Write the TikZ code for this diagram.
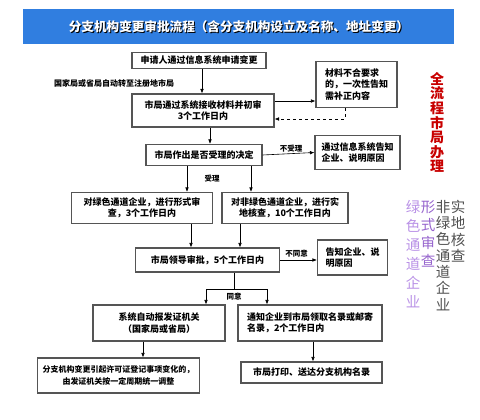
\documentclass[tikz,border=0pt]{standalone}
\usepackage{fontspec}
\setmainfont{Noto Sans CJK SC}
\usetikzlibrary{arrows.meta,calc}
\definecolor{titleblue}{RGB}{48,126,224}
\definecolor{boxline}{RGB}{85,85,85}
\definecolor{redtxt}{RGB}{200,0,0}
\definecolor{lpurple}{RGB}{185,145,230}
\definecolor{mpurple}{RGB}{150,100,205}
\definecolor{dgray}{RGB}{80,80,80}
\begin{document}
\begin{tikzpicture}[x=1pt,y=-1pt,
  box/.style={draw=boxline,line width=1.1pt,fill=white,inner sep=1pt,align=center,
    font=\bfseries\fontsize{9}{11.5}\selectfont},
  lbox/.style={box,align=left},
  arr/.style={draw=black,line width=0.6pt,-{Latex[length=4.5pt,width=3.6pt]}},
  ln/.style={draw=black,line width=0.6pt},
  lab/.style={inner sep=0pt,font=\bfseries\fontsize{7.5}{9}\selectfont},
  vtext/.style={inner sep=0pt,align=center,anchor=north}]
\useasboundingbox (0,0) rectangle (480,420);
% title bar
\fill[titleblue] (23,9) rectangle (454,44);
\node[inner sep=0pt,font=\bfseries\fontsize{12.6}{14}\selectfont,text=black] (tsh) at (240,27.5) {分支机构变更审批流程（含分支机构设立及名称、地址变更）};
\node[inner sep=0pt,font=\bfseries\fontsize{12.6}{14}\selectfont,text=white] (title) at (239,26.5) {分支机构变更审批流程（含分支机构设立及名称、地址变更）};
% boxes
\node[box,minimum width=134pt,minimum height=16pt] (b1) at (199,60.5) {申请人通过信息系统申请变更};
\node[lab,font=\bfseries\fontsize{8}{9}\selectfont,anchor=west] (lbl) at (54,83) {国家局或省局自动转至注册地市局};
\node[box,minimum width=142pt,minimum height=33pt] (b2) at (203,110.5) {市局通过系统接收材料并初审\\3个工作日内};
\node[lbox,minimum width=81pt,minimum height=46pt] (r1) at (356.5,84.5) {材料不合要求\\的，一次性告知\\需补正内容};
\node[box,minimum width=116pt,minimum height=21pt] (b3) at (204,155) {市局作出是否受理的决定};
\node[lbox,minimum width=85pt,minimum height=34pt] (r2) at (357.5,152.5) {通过信息系统告知\\企业、说明原因};
\node[box,minimum width=141pt,minimum height=31pt] (b4) at (142,208) {对绿色通道企业，进行形式审\\查，3个工作日内};
\node[box,minimum width=126pt,minimum height=31pt] (b5) at (285,208) {对非绿色通道企业，进行实\\地核查，10个工作日内};
\node[box,minimum width=144pt,minimum height=24pt] (b6) at (207.5,260) {市局领导审批，5个工作日内};
\node[lbox,minimum width=70pt,minimum height=35pt] (b7) at (352.5,257.5) {告知企业、说\\明原因};
\node[box,minimum width=132pt,minimum height=36pt] (b8) at (159,323) {系统自动报发证机关\\（国家局或省局）};
\node[lbox,minimum width=144pt,minimum height=36pt] (b9) at (310,323) {通知企业到市局领取名录或邮寄\\名录，2个工作日内};
\node[box,minimum width=162pt,minimum height=35pt,font=\bfseries\fontsize{8}{11.5}\selectfont] (b10) at (118.5,375.5) {分支机构变更引起许可证登记事项变化的，\\由发证机关按一定周期统一调整};
\node[box,minimum width=141pt,minimum height=21pt] (b11) at (311.5,372.5) {市局打印、送达分支机构名录};
% connectors
\draw[arr] ([xshift=3pt]b1.south) -- ([xshift=3pt]b1.south |- b2.north);
\draw[arr] ([yshift=9.5pt]b2.east) -- ([yshift=9.5pt]b2.east -| r1.west);
\draw[arr,dashed] ([xshift=-11.5pt]r1.south) |- ([yshift=-8.5pt]b2.east);
\draw[arr] ([xshift=7pt]b2.south) -- ([xshift=7pt]b2.south |- b3.north);
\draw[arr] (b3.east) -- node[lab,above=1.5pt,pos=0.55] (nsl) {不受理} (r2.west);
\draw[arr] ([xshift=-17pt]b3.south) -- ([xshift=-17pt]b3.south |- b4.north);
\draw[arr] ([xshift=47pt]b3.south) -- ([xshift=47pt]b3.south |- b5.north);
\node[lab] (sl) at (212,179) {受理};
\draw[arr] ([xshift=49pt]b4.south) -- ([xshift=49pt]b4.south |- b6.north);
\draw[arr] ([xshift=-45pt]b5.south) -- ([xshift=-45pt]b5.south |- b6.north);
\draw[arr] (b6.east) -- node[lab,above=2pt,pos=0.45] (bty) {不同意} (b6.east -| b7.west);
\coordinate (sp) at (234,289);
\draw[ln] (b6.south -| sp) -- (sp);
\draw[arr] (sp) -| ([xshift=47pt]b8.north);
\draw[arr] (sp) -| ([xshift=-43pt]b9.north);
\node[lab] (ty) at (234,297) {同意};
\draw[arr] ([xshift=-16pt]b8.south) -- ([xshift=-16pt]b8.south |- b10.north);
\draw[arr] ([xshift=3pt]b9.south) -- ([xshift=3pt]b9.south |- b11.north);
% side texts
\node[vtext,text=redtxt,font=\bfseries\fontsize{14}{14.6}\selectfont] (red) at (437,72) {全\\流\\程\\市\\局\\办\\理};
\node[vtext,text=lpurple,font=\fontsize{14.5}{19}\selectfont] (p1) at (413,200) {绿\\色\\通\\道\\企\\业};
\node[vtext,text=mpurple,font=\fontsize{14.5}{18}\selectfont] (p2) at (428,200) {形\\式\\审\\查};
\node[vtext,text=dgray,font=\fontsize{14.5}{16.3}\selectfont] (g1) at (443,200) {非\\绿\\色\\通\\道\\企\\业};
\node[vtext,text=dgray,font=\fontsize{14.5}{16.5}\selectfont] (g2) at (458,200) {实\\地\\核\\查};
\end{tikzpicture}
\end{document}
